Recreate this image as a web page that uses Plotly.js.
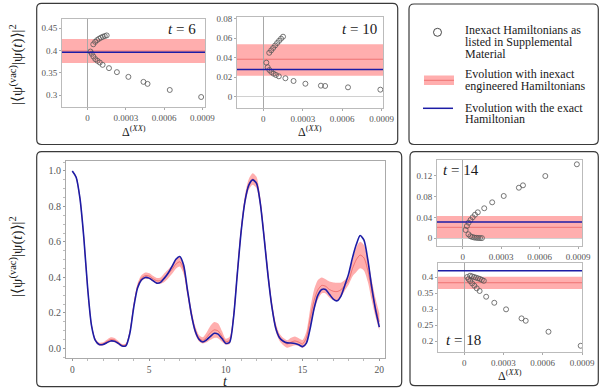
<!DOCTYPE html>
<html><head><meta charset="utf-8">
<script src="https://cdn.plot.ly/plotly-3.0.1.min.js"></script>
<style>html,body{margin:0;padding:0;background:#fff}</style>
</head><body><div id="chart" style="width:603px;height:392px"></div>
<script>
// ---------------- data ----------------
const tGrid = [0,0.25,0.5,0.75,1,1.25,1.5,1.75,2,2.25,2.5,2.75,3,3.25,3.5,3.75,4,4.25,4.5,4.75,5,5.25,5.5,5.75,6,6.25,6.5,6.75,7,7.25,7.5,7.75,8,8.25,8.5,8.75,9,9.25,9.5,9.75,10,10.25,10.5,10.75,11,11.25,11.5,11.75,12,12.25,12.5,12.75,13,13.25,13.5,13.75,14,14.25,14.5,14.75,15,15.25,15.5,15.75,16,16.25,16.5,16.75,17,17.25,17.5,17.75,18,18.25,18.5,18.75,19,19.25,19.5,19.75,20];
const exactVals = [1.000,0.965,0.845,0.625,0.340,0.130,0.045,0.022,0.022,0.032,0.042,0.040,0.028,0.013,0.016,0.085,0.230,0.340,0.385,0.400,0.396,0.382,0.368,0.372,0.396,0.425,0.462,0.502,0.518,0.470,0.330,0.195,0.100,0.052,0.036,0.048,0.068,0.085,0.080,0.055,0.028,0.035,0.170,0.420,0.660,0.830,0.920,0.950,0.930,0.815,0.620,0.410,0.235,0.115,0.060,0.040,0.031,0.030,0.027,0.020,0.010,0.030,0.115,0.225,0.300,0.332,0.332,0.305,0.278,0.268,0.295,0.355,0.420,0.510,0.585,0.636,0.610,0.500,0.350,0.220,0.120];
const meanVals = [1.000,0.965,0.845,0.625,0.340,0.131,0.047,0.024,0.025,0.038,0.050,0.047,0.032,0.016,0.020,0.092,0.240,0.350,0.395,0.410,0.408,0.393,0.381,0.382,0.399,0.420,0.445,0.475,0.488,0.448,0.325,0.198,0.105,0.058,0.045,0.062,0.088,0.104,0.098,0.068,0.038,0.045,0.175,0.425,0.665,0.835,0.925,0.955,0.935,0.820,0.625,0.415,0.240,0.120,0.062,0.038,0.025,0.035,0.042,0.035,0.025,0.060,0.170,0.270,0.330,0.355,0.350,0.332,0.322,0.320,0.330,0.355,0.383,0.450,0.500,0.526,0.510,0.440,0.330,0.230,0.150];
const spreadVals = [0.002,0.003,0.004,0.005,0.006,0.007,0.008,0.008,0.009,0.011,0.013,0.012,0.010,0.008,0.009,0.012,0.014,0.016,0.017,0.018,0.017,0.016,0.016,0.018,0.025,0.025,0.025,0.026,0.027,0.029,0.030,0.028,0.022,0.018,0.018,0.028,0.040,0.045,0.042,0.030,0.016,0.020,0.025,0.030,0.030,0.030,0.030,0.032,0.032,0.030,0.030,0.030,0.028,0.024,0.020,0.020,0.021,0.025,0.025,0.022,0.022,0.035,0.055,0.060,0.055,0.045,0.040,0.045,0.050,0.050,0.040,0.030,0.025,0.045,0.070,0.075,0.072,0.065,0.058,0.052,0.048];

const deltaLower = [2.3e-5,3.3e-5,4.6e-5,6.1e-5,7.8e-5,9.6e-5,1.18e-4,1.68e-4,2.3e-4,3.2e-4,4.38e-4,4.7e-4,6.44e-4,8.9e-4];
const deltaUpper = [4.5e-5,6.0e-5,7.5e-5,9.0e-5,1.05e-4,1.2e-4,1.35e-4,1.5e-4];

const panelTimes = [6,10,14,18];
const lowerT6  = [0.3977,0.3926,0.3865,0.3806,0.3768,0.373,0.3678,0.3604,0.3514,0.3408,0.3295,0.325,0.3113,0.2955];
const upperT6  = [0.414,0.4195,0.4235,0.4265,0.429,0.431,0.4325,0.434];
const lowerT10 = [0.0349,0.0302,0.0274,0.0253,0.0236,0.0223,0.0209,0.0189,0.0161,0.0133,0.0113,0.011,0.0096,0.0072];
const upperT10 = [0.045,0.0475,0.050,0.0525,0.055,0.0573,0.0595,0.0615];
const lowerT14 = [0.0159,0.0235,0.0298,0.035,0.0402,0.0451,0.0497,0.0574,0.0688,0.0809,0.0967,0.1013,0.1191,0.1415];
const upperT14 = [0.0077,0.004,0.0025,0.0015,0.001,0.0007,0.0005,0.0004];
const lowerT18 = [0.401,0.3946,0.388,0.381,0.3736,0.3654,0.357,0.339,0.320,0.2994,0.271,0.2635,0.229,0.185];
const upperT18 = [0.405,0.403,0.401,0.399,0.397,0.395,0.392,0.389];

const bandLo   = [0.372, 0.0215, 0.0, 0.363];
const bandHi   = [0.426, 0.0537, 0.0426, 0.402];
const bandMean = [0.399, 0.0384, 0.021, 0.383];
const exactAtT = [0.396, 0.0279, 0.0312, 0.4208];

const deltaTickVals = [0, 0.0003, 0.0006, 0.0009];
const deltaTickText = ['0', '0.0003', '0.0006', '0.0009'];
const legendLabels = [['Inexact Hamiltonians as','listed in Supplemental','Material'],
                      ['Evolution with inexact','engineered Hamiltonians'],
                      ['Evolution with the exact','Hamiltonian']];

// ---------------- layout helpers ----------------
const W = 603, H = 392;
const PX = x => x / W, PY = y => 1 - y / H;
const dx = (a, b) => [PX(a), PX(b)];
const dy = (top, bot) => [PY(bot), PY(top)];
const FONT = 'Liberation Serif';
const BLUE = '#1c1ca6';
const BAND = 'rgba(255,30,30,0.36)';
const MEANC = 'rgba(225,70,70,0.55)';

const lo = meanVals.map((m, i) => m - spreadVals[i]);
const hi = meanVals.map((m, i) => m + spreadVals[i]);

const traces = [
  {x: tGrid, y: lo, xaxis: 'x', yaxis: 'y', mode: 'lines', line: {width: 0, shape: 'spline', smoothing: 0.7}, hoverinfo: 'skip'},
  {x: tGrid, y: hi, xaxis: 'x', yaxis: 'y', mode: 'lines', fill: 'tonexty', fillcolor: BAND, line: {width: 0, shape: 'spline', smoothing: 0.7}, hoverinfo: 'skip'},
  {x: tGrid, y: meanVals, xaxis: 'x', yaxis: 'y', mode: 'lines', line: {color: MEANC, width: 1, shape: 'spline', smoothing: 0.7}},
  {x: tGrid, y: exactVals, xaxis: 'x', yaxis: 'y', mode: 'lines', line: {color: BLUE, width: 1.6, shape: 'spline', smoothing: 0.7}}
];
const panelLower = [lowerT6, lowerT10, lowerT14, lowerT18];
const panelUpper = [upperT6, upperT10, upperT14, upperT18];
panelTimes.forEach((t, i) => {
  const k = i + 2;
  traces.push({
    x: deltaLower.concat(deltaUpper), y: panelLower[i].concat(panelUpper[i]),
    xaxis: 'x' + k, yaxis: 'y' + k, mode: 'markers',
    marker: {symbol: 'circle-open', size: 5, color: '#555', line: {width: 0.8}}
  });
});

const smallAxis = (dom, rng) => ({
  domain: dom, range: rng, showline: true, mirror: true, linecolor: '#bbb', linewidth: 1,
  ticks: 'outside', ticklen: 2, tickcolor: '#aaa', showgrid: false,
  zeroline: true, zerolinecolor: '#a8a8a8', zerolinewidth: 1,
  tickfont: {family: FONT, size: 9, color: '#555'}
});

const layout = {
  width: W, height: H, margin: {l: 0, r: 0, t: 0, b: 0}, autosize: false,
  paper_bgcolor: '#fff', plot_bgcolor: '#fff', showlegend: false,
  font: {family: FONT, color: '#555'},
  xaxis: {domain: dx(66, 385), range: [-0.41, 20.37], anchor: 'y', showline: true, mirror: true, linecolor: '#aaa',
          ticks: 'outside', ticklen: 2, tickcolor: '#999', dtick: 5, tick0: 0, showgrid: false, zeroline: false,
          minor: {dtick: 1, ticks: 'outside', ticklen: 2, tickcolor: '#bbb'},
          tickfont: {family: FONT, size: 9.5, color: '#555'}},
  yaxis: {domain: dy(160.7, 358.3), range: [-0.056, 1.058], anchor: 'x', showline: true, mirror: true, linecolor: '#aaa',
          ticks: 'outside', ticklen: 2, tickcolor: '#999', dtick: 0.2, tick0: 0, tickformat: '.1f', showgrid: false, zeroline: false,
          minor: {dtick: 0.05, ticks: 'outside', ticklen: 2, tickcolor: '#bbb'},
          tickfont: {family: FONT, size: 10, color: '#555'}},
  xaxis2: Object.assign(smallAxis(dx(62, 205), [-0.0002, 0.00092]), {anchor: 'y2', tickvals: deltaTickVals, ticktext: deltaTickText}),
  yaxis2: Object.assign(smallAxis(dy(18.5, 106.7), [0.2737, 0.472]), {anchor: 'x2', dtick: 0.05, tick0: 0}),
  xaxis3: Object.assign(smallAxis(dx(237, 383), [-0.0002, 0.00091]), {anchor: 'y3', tickvals: deltaTickVals, ticktext: deltaTickText}),
  yaxis3: Object.assign(smallAxis(dy(17, 108.3), [-0.0119, 0.0817]), {anchor: 'x3', dtick: 0.02, tick0: 0, zerolinecolor: '#d0d0d0'}),
  xaxis4: Object.assign(smallAxis(dx(437, 582), [-0.0002, 0.00093]), {anchor: 'y4', tickvals: deltaTickVals, ticktext: deltaTickText}),
  yaxis4: Object.assign(smallAxis(dy(160, 246), [-0.0147, 0.1497]), {anchor: 'x4', dtick: 0.04, tick0: 0, zerolinecolor: '#d0d0d0'}),
  xaxis5: Object.assign(smallAxis(dx(438, 582), [-0.0002, 0.0009]), {anchor: 'y5', tickvals: deltaTickVals, ticktext: deltaTickText}),
  yaxis5: Object.assign(smallAxis(dy(263.3, 352.3), [0.1645, 0.444]), {anchor: 'x5', dtick: 0.05, tick0: 0}),
  shapes: [], annotations: []
};

// rounded boxes
function rbox(x0, y0, x1, y1, r) {
  const p = (x, y) => PX(x) + ',' + PY(y);
  return {type: 'path', xref: 'paper', yref: 'paper', line: {color: '#3a3a3a', width: 1.2},
    path: 'M' + p(x0 + r, y0) + ' L' + p(x1 - r, y0) + ' Q' + p(x1, y0) + ' ' + p(x1, y0 + r) +
          ' L' + p(x1, y1 - r) + ' Q' + p(x1, y1) + ' ' + p(x1 - r, y1) +
          ' L' + p(x0 + r, y1) + ' Q' + p(x0, y1) + ' ' + p(x0, y1 - r) +
          ' L' + p(x0, y0 + r) + ' Q' + p(x0, y0) + ' ' + p(x0 + r, y0) + ' Z'};
}
layout.shapes.push(rbox(36.7, 3.3, 397.7, 144.5, 5));
layout.shapes.push(rbox(409, 4, 598.3, 144.5, 5));
layout.shapes.push(rbox(36.7, 151.7, 401.7, 386.7, 5));
layout.shapes.push(rbox(410, 151.7, 598.3, 385.7, 5));

// bands and lines in small panels
panelTimes.forEach((t, i) => {
  const k = i + 2;
  layout.shapes.push({type: 'rect', xref: 'x' + k + ' domain', yref: 'y' + k, x0: 0, x1: 1, y0: bandLo[i], y1: bandHi[i],
    fillcolor: BAND, line: {width: 0}, layer: 'below'});
  layout.shapes.push({type: 'line', xref: 'x' + k + ' domain', yref: 'y' + k, x0: 0, x1: 1, y0: bandMean[i], y1: bandMean[i],
    line: {color: MEANC, width: 1}, layer: 'below'});
  layout.shapes.push({type: 'line', xref: 'x' + k + ' domain', yref: 'y' + k, x0: 0, x1: 1, y0: exactAtT[i], y1: exactAtT[i],
    line: {color: BLUE, width: 1.5}});
});

// legend symbols
layout.shapes.push({type: 'circle', xref: 'paper', yref: 'paper', x0: PX(433.5), x1: PX(441.5), y0: PY(36.3), y1: PY(28.3),
  line: {color: '#333', width: 0.9}});
layout.shapes.push({type: 'rect', xref: 'paper', yref: 'paper', x0: PX(424), x1: PX(454), y0: PY(85), y1: PY(75.5),
  fillcolor: BAND, line: {width: 0}});
layout.shapes.push({type: 'line', xref: 'paper', yref: 'paper', x0: PX(424), x1: PX(454), y0: PY(80.3), y1: PY(80.3),
  line: {color: MEANC, width: 1}});
layout.shapes.push({type: 'line', xref: 'paper', yref: 'paper', x0: PX(423), x1: PX(453), y0: PY(108.3), y1: PY(108.3),
  line: {color: BLUE, width: 1.5}});

function ann(text, x, y, size, extra) {
  layout.annotations.push(Object.assign({text: text, xref: 'paper', yref: 'paper', x: PX(x), y: PY(y),
    showarrow: false, xanchor: 'center', yanchor: 'middle', font: {family: FONT, size: size, color: '#1a1a1a'}}, extra || {}));
}
// legend text
const legendLineY = [[30.5, 42, 53.5], [74.5, 86], [107.5, 119]];
legendLabels.forEach((lines, g) => lines.forEach((s, j) => ann(s, 463, legendLineY[g][j], 12, {xanchor: 'left'})));

// panel labels
const tLabelPos = [[181.7, 28.5], [360, 29.5], [461, 170], [463.7, 340]];
panelTimes.forEach((t, i) => ann('<i>t</i> = ' + t, tLabelPos[i][0], tLabelPos[i][1], 15));

// axis titles
const dLabel = 'Δ<sup>(<i>XX</i>)</sup>';
ann(dLabel, 133.5, 129, 12, {yanchor: 'top', y: PY(122)});
ann(dLabel, 310, 129, 12, {yanchor: 'top', y: PY(122)});
ann(dLabel, 510, 373, 12, {yanchor: 'top', y: PY(366)});
ann('<i>t</i>', 225.5, 380, 14, {yanchor: 'top', y: PY(372)});
const yLabel = '|⟨ψ<sup>(vac)</sup>|ψ(<i>t</i>)⟩|<sup>2</sup>';
ann(yLabel, 16, 65, 15, {textangle: -90});
ann(yLabel, 16, 257, 15, {textangle: -90});

Plotly.newPlot('chart', traces, layout, {staticPlot: true, displayModeBar: false});
</script>
</body></html>
